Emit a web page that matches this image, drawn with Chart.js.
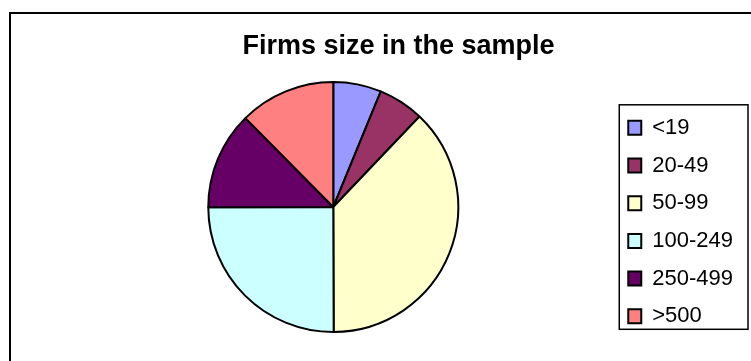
<!DOCTYPE html>
<html>
<head>
<meta charset="utf-8">
<script src="https://cdn.jsdelivr.net/npm/chart.js@4/dist/chart.umd.min.js"></script>
<style>
  html, body { margin: 0; padding: 0; background: #fff; }
  #wrap { width: 751px; height: 361px; position: relative; }
</style>
</head>
<body>
<div id="wrap"><canvas id="c" width="751" height="361"></canvas></div>
<script>
const categories = ['<19', '20-49', '50-99', '100-249', '250-499', '>500'];
const shares = [6.2, 5.9, 37.8, 25.0, 12.6, 12.4];
const sliceColors = ['#9999FF', '#993366', '#FFFFCC', '#CCFFFF', '#660066', '#FF8080'];
const chartTitle = 'Firms size in the sample';

const frames = {
  id: 'frames',
  beforeDraw(chart) {
    const ctx = chart.ctx;
    ctx.save();
    ctx.fillStyle = '#ffffff';
    ctx.fillRect(0, 0, chart.width, chart.height);
    ctx.strokeStyle = '#000000';
    ctx.lineWidth = 2;
    ctx.strokeRect(10, 13, 1000, 1000);
    ctx.restore();
  },
  afterDraw(chart) {
    const lg = chart.legend;
    if (!lg || !lg.legendHitBoxes || !lg.legendHitBoxes.length) return;
    const hb = lg.legendHitBoxes;
    const first = hb[0], last = hb[hb.length - 1];
    const ctx = chart.ctx;
    ctx.save();
    ctx.strokeStyle = '#000000';
    ctx.lineWidth = 1.5;
    const x0 = first.left - 9;
    const y0 = first.top - 12;
    const y1 = last.top + last.height + 2;
    ctx.strokeRect(x0, y0, 748 - x0, y1 - y0);
    ctx.restore();
  }
};

new Chart(document.getElementById('c'), {
  type: 'pie',
  data: {
    labels: categories,
    datasets: [{
      data: shares,
      backgroundColor: sliceColors,
      borderColor: '#000000',
      borderWidth: 2,
      radius: 125
    }]
  },
  options: {
    responsive: false,
    animation: false,
    devicePixelRatio: 1,
    layout: { padding: { left: 54, right: 8, top: 0, bottom: 18 } },
    plugins: {
      title: {
        display: true,
        text: chartTitle,
        color: '#000000',
        font: { family: '"Liberation Sans", Arial, sans-serif', size: 27, weight: 'bold' },
        padding: { top: 30.6, bottom: 8 }
      },
      legend: {
        display: true,
        position: 'right',
        align: 'end',
        labels: {
          color: '#000000',
          boxWidth: 13,
          boxHeight: 14,
          padding: 15.7,
          font: { family: '"Liberation Sans", Arial, sans-serif', size: 22 }
        }
      },
      tooltip: { enabled: false }
    }
  },
  plugins: [frames]
});
</script>
</body>
</html>
